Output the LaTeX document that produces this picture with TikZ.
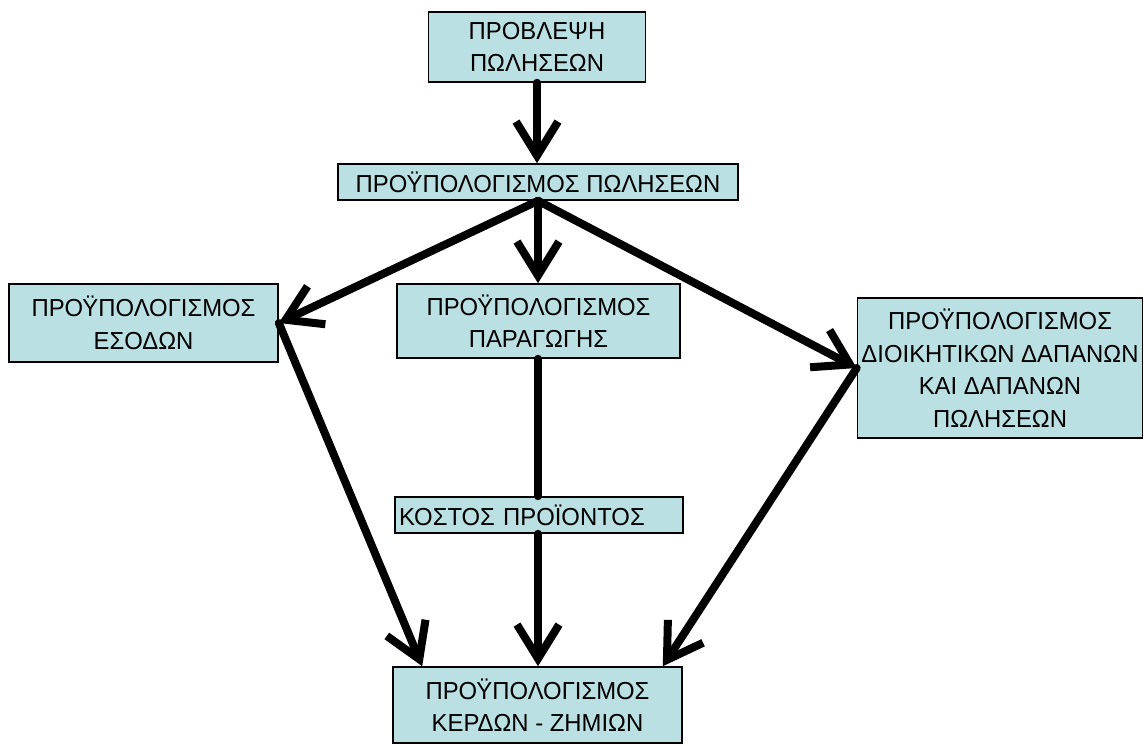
\documentclass[tikz,border=0pt]{standalone}
\usepackage{fontspec}
\setmainfont[FakeStretch=0.97]{Liberation Sans}
\usetikzlibrary{arrows.meta}
\definecolor{boxfill}{RGB}{187,224,227}
\begin{document}
\begin{tikzpicture}[x=0.5pt, y=-0.5pt, font=\fontsize{12.3}{16.3}\selectfont,
	box/.style={draw, line width=0.8pt, fill=boxfill, align=center, inner sep=2pt},
	flow/.style={line width=4pt, line cap=round, -{Straight Barb[length=17pt, width=21pt]}}]
				\useasboundingbox (0,0) rectangle (1144,745);
				\node[box, minimum width=108.5pt, minimum height=35pt] (forecast) at (537,47) {ΠΡΟΒΛΕΨΗ\\ΠΩΛΗΣΕΩΝ};
				\node[box, minimum width=200pt, minimum height=18pt] (salesbud) at (538,182) {ΠΡΟΫΠΟΛΟΓΙΣΜΟΣ ΠΩΛΗΣΕΩΝ};
				\node[box, minimum width=134.5pt, minimum height=39pt] (revenue) at (143.5,323) {ΠΡΟΫΠΟΛΟΓΙΣΜΟΣ\\ΕΣΟΔΩΝ};
				\node[box, minimum width=141.5pt, minimum height=37pt] (production) at (538.5,321) {ΠΡΟΫΠΟΛΟΓΙΣΜΟΣ\\ΠΑΡΑΓΩΓΗΣ};
				\node[box, minimum width=142pt, minimum height=70pt] (admin) at (1000,368) {ΠΡΟΫΠΟΛΟΓΙΣΜΟΣ\\ΔΙΟΙΚΗΤΙΚΩΝ ΔΑΠΑΝΩΝ\\ΚΑΙ ΔΑΠΑΝΩΝ\\ΠΩΛΗΣΕΩΝ};
				\node[box, align=left, text width=140pt, minimum height=18pt] (cost) at (539,515) {ΚΟΣΤΟΣ ΠΡΟΪΟΝΤΟΣ};
				\node[box, minimum width=144.5pt, minimum height=38pt] (profit) at (537.5,705) {ΠΡΟΫΠΟΛΟΓΙΣΜΟΣ\\ΚΕΡΔΩΝ - ΖΗΜΙΩΝ};
				\draw[flow] (forecast.south)--(forecast.south |- salesbud.north);
				\draw[flow] (salesbud.south)--(revenue.east);
				\draw[flow] (salesbud.south)--(salesbud.south |- production.north);
				\draw[flow] (salesbud.south)--(admin.west);
				\draw[line width=4pt, line cap=round] (salesbud.south |- production.south)--(salesbud.south |- cost.north);
				\draw[flow] (revenue.east)--([xshift=15pt]profit.north west);
				\draw[flow] (salesbud.south |- cost.south)--(salesbud.south |- profit.north);
				\draw[flow] (admin.west)--([xshift=-10pt]profit.north east);
			\end{tikzpicture}
\end{document}
